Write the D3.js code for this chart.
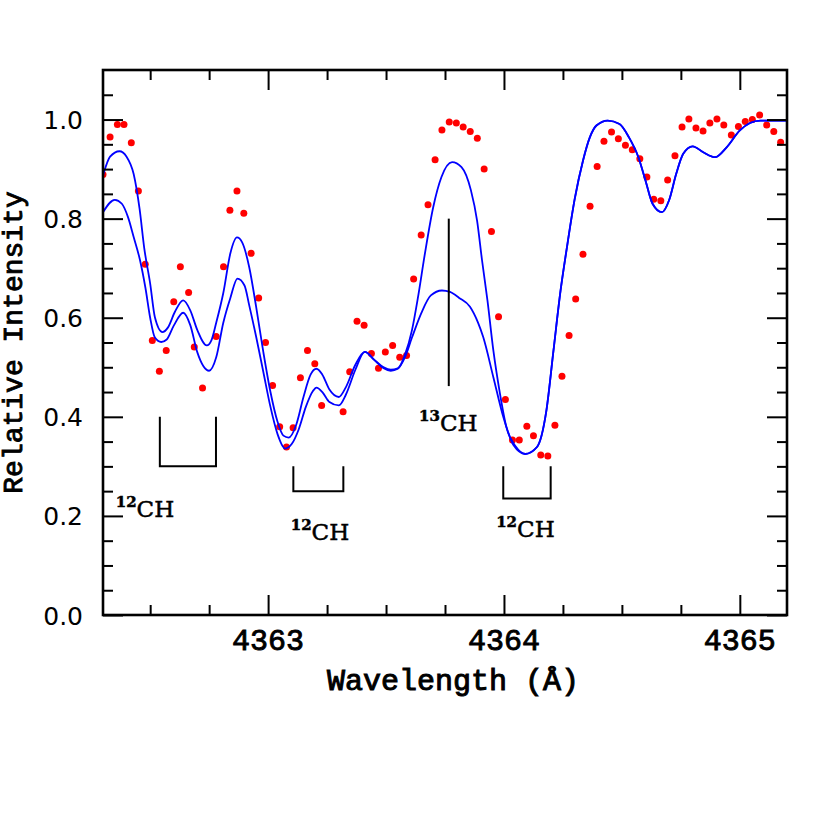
<!DOCTYPE html>
<html>
<head>
<meta charset="utf-8">
<script src="https://cdn.jsdelivr.net/npm/d3@7"></script>
<style>
  html, body { margin: 0; padding: 0; background: #fff; }
  svg { display: block; }
</style>
</head>
<body>
<svg id="chart" width="830" height="830"></svg>
<script>
// ---- observed data (red points) ----
const obsWave = [4362.300,4362.330,4362.361,4362.389,4362.420,4362.450,4362.479,4362.509,4362.539,4362.568,
  4362.600,4362.628,4362.663,4362.687,4362.722,4362.780,4362.811,4362.838,4362.868,4362.897,
  4362.928,4362.960,4362.989,4363.019,4363.049,4363.078,4363.106,4363.137,4363.167,4363.198,
  4363.227,4363.318,4363.346,4363.377,4363.407,4363.438,4363.468,4363.497,4363.528,4363.558,
  4363.587,4363.617,4363.649,4363.678,4363.708,4363.737,4363.768,4363.798,4363.827,4363.857,
  4363.887,4363.916,4363.947,4363.977,4364.006,4364.036,4364.065,4364.097,4364.125,4364.156,
  4364.186,4364.216,4364.246,4364.276,4364.304,4364.335,4364.365,4364.395,4364.424,4364.456,
  4364.485,4364.515,4364.544,4364.576,4364.606,4364.635,4364.665,4364.694,4364.725,4364.755,
  4364.784,4364.814,4364.844,4364.873,4364.903,4364.932,4364.964,4364.994,4365.023,4365.053,
  4365.084,4365.114,4365.144,4365.173];
const obsFlux = [0.889,0.965,0.990,0.990,0.953,0.856,0.708,0.554,0.492,0.534,
  0.632,0.703,0.651,0.541,0.458,0.562,0.703,0.817,0.856,0.811,
  0.730,0.640,0.550,0.463,0.380,0.339,0.378,0.479,0.534,0.507,
  0.423,0.410,0.491,0.593,0.585,0.528,0.498,0.531,0.544,0.520,
  0.524,0.678,0.767,0.828,0.919,0.979,0.995,0.993,0.985,0.976,
  0.962,0.900,0.774,0.602,0.435,0.353,0.353,0.381,0.362,0.323,
  0.321,0.383,0.482,0.564,0.638,0.728,0.825,0.905,0.956,0.975,
  0.961,0.948,0.939,0.921,0.884,0.839,0.836,0.878,0.927,0.985,
  1.001,0.983,0.977,0.993,1.001,0.989,0.969,0.986,0.996,1.000,
  1.009,0.989,0.976,0.954];

// ---- synthetic spectrum (upper curve) ----
const synAWave = [4362.300,4362.330,4362.370,4362.400,4362.430,4362.455,4362.475,4362.500,4362.520,4362.552,
  4362.575,4362.605,4362.640,4362.670,4362.700,4362.740,4362.760,4362.780,4362.810,4362.840,
  4362.868,4362.890,4362.920,4362.950,4362.980,4363.010,4363.040,4363.065,4363.087,4363.120,
  4363.150,4363.180,4363.205,4363.230,4363.260,4363.300,4363.330,4363.370,4363.410,4363.450,
  4363.490,4363.520,4363.550,4363.580,4363.610,4363.635,4363.665,4363.700,4363.735,4363.780,
  4363.820,4363.860,4363.886,4363.907,4363.930,4363.955,4363.983,4364.010,4364.050,4364.090,
  4364.140,4364.180,4364.210,4364.240,4364.265,4364.300,4364.335,4364.364,4364.392,4364.440,
  4364.490,4364.530,4364.570,4364.600,4364.630,4364.670,4364.700,4364.730,4364.760,4364.800,
  4364.845,4364.895,4364.944,4365.000,4365.043,4365.087,4365.200];
const synAFlux = [0.887,0.925,0.936,0.925,0.890,0.820,0.740,0.669,0.601,0.571,
  0.580,0.612,0.635,0.615,0.575,0.544,0.555,0.590,0.650,0.730,
  0.762,0.752,0.702,0.620,0.530,0.450,0.390,0.362,0.358,0.385,
  0.440,0.485,0.497,0.485,0.455,0.440,0.460,0.505,0.531,0.515,
  0.498,0.493,0.497,0.525,0.575,0.640,0.730,0.823,0.884,0.914,
  0.904,0.857,0.796,0.716,0.635,0.534,0.447,0.380,0.340,0.325,
  0.339,0.413,0.534,0.655,0.736,0.840,0.917,0.964,0.988,0.998,
  0.991,0.964,0.924,0.877,0.830,0.813,0.837,0.890,0.931,0.946,
  0.934,0.924,0.944,0.978,0.993,0.998,0.998];

// ---- synthetic spectrum (lower curve) ----
const synBWave = [4362.300,4362.350,4362.380,4362.406,4362.430,4362.457,4362.480,4362.500,4362.520,4362.547,
  4362.570,4362.600,4362.640,4362.670,4362.700,4362.750,4362.780,4362.810,4362.840,4362.870,
  4362.900,4362.920,4362.950,4362.980,4363.010,4363.040,4363.072,4363.100,4363.130,4363.160,
  4363.190,4363.205,4363.230,4363.260,4363.300,4363.330,4363.370,4363.410,4363.450,4363.490,
  4363.520,4363.550,4363.580,4363.610,4363.650,4363.690,4363.737,4363.771,4363.810,4363.856,
  4363.890,4363.912,4363.955,4363.997,4364.040,4364.090,4364.140,4364.180,4364.210,4364.240,
  4364.265,4364.300,4364.335,4364.364,4364.392,4364.440,4364.490,4364.530,4364.570,4364.600,
  4364.630,4364.670,4364.700,4364.730,4364.760,4364.800,4364.845,4364.895,4364.944,4365.000,
  4365.043,4365.087,4365.200];
const synBFlux = [0.813,0.838,0.830,0.803,0.763,0.716,0.660,0.600,0.560,0.551,
  0.556,0.584,0.610,0.585,0.530,0.493,0.520,0.590,0.640,0.679,
  0.665,0.625,0.560,0.490,0.420,0.365,0.336,0.345,0.375,0.420,
  0.452,0.459,0.450,0.430,0.423,0.445,0.495,0.531,0.515,0.500,
  0.495,0.498,0.520,0.560,0.610,0.645,0.655,0.652,0.640,0.622,
  0.590,0.561,0.480,0.400,0.343,0.325,0.339,0.413,0.534,0.655,
  0.736,0.840,0.917,0.964,0.988,0.998,0.991,0.964,0.924,0.877,
  0.830,0.813,0.837,0.890,0.931,0.946,0.934,0.924,0.944,0.978,
  0.993,0.998,0.998];

// ---- annotations ----
const bracketLeft   = [4362.541, 4363.107, 4363.997];
const bracketRight  = [4362.779, 4363.319, 4364.198];
const bracketTop    = [0.400, 0.300, 0.300];
const bracketBottom = [0.300, 0.250, 0.235];
const labelIso      = ["12", "12", "12", "13"];
const labelWave     = [4362.478, 4363.220, 4364.091, 4363.764];
const labelFlux     = [0.197, 0.151, 0.158, 0.371];
const line13Wave    = [4363.766];
const line13Top     = [0.800];
const line13Bottom  = [0.462];

// ---- ticks ----
const xMajor = [4363, 4364, 4365];
const xMinor = [4362.5, 4362.75, 4363.25, 4363.5, 4363.75, 4364.25, 4364.5, 4364.75];
const yMajor = [0.0, 0.2, 0.4, 0.6, 0.8, 1.0];
const yMinor = [0.05,0.1,0.15,0.25,0.3,0.35,0.45,0.5,0.55,0.65,0.7,0.75,0.85,0.9,0.95,1.05];
const xTickLabels = ["4363", "4364", "4365"];
const yTickLabels = ["0.0", "0.2", "0.4", "0.6", "0.8", "1.0"];

const L = 103, R = 787, T = 70, B = 615;
const svg = d3.select("#chart");
const x = d3.scaleLinear().domain([4362.3, 4365.2]).range([L, R]);
const y = d3.scaleLinear().domain([0, 1.1]).range([B, T]);

svg.append("defs").append("clipPath").attr("id", "clip")
  .append("rect").attr("x", L).attr("y", T).attr("width", R - L).attr("height", B - T);

const plot = svg.append("g").attr("clip-path", "url(#clip)");

plot.selectAll("circle.obs").data(obsWave.map((w, i) => [w, obsFlux[i]]))
  .enter().append("circle").attr("class", "obs")
  .attr("cx", d => x(d[0])).attr("cy", d => y(d[1])).attr("r", 3.5)
  .attr("fill", "#ff0000");

const line = d3.line().x(d => x(d[0])).y(d => y(d[1])).curve(d3.curveMonotoneX);
[[synAWave, synAFlux], [synBWave, synBFlux]].forEach(([w, f]) => {
  plot.append("path").datum(w.map((v, i) => [v, f[i]]))
    .attr("d", line).attr("fill", "none").attr("stroke", "#0000ff").attr("stroke-width", 1.8);
});

const ann = svg.append("g").attr("stroke", "#000").attr("stroke-width", 2).attr("fill", "none");
bracketLeft.forEach((wl, i) => {
  const wr = bracketRight[i];
  ann.append("path").attr("d",
    `M${x(wl)},${y(bracketTop[i])}V${y(bracketBottom[i])}H${x(wr)}V${y(bracketTop[i])}`);
});
line13Wave.forEach((w, i) => {
  ann.append("line").attr("x1", x(w)).attr("x2", x(w))
    .attr("y1", y(line13Top[i])).attr("y2", y(line13Bottom[i]));
});

labelIso.forEach((iso, i) => {
  const t = svg.append("text")
    .attr("x", x(labelWave[i])).attr("y", y(labelFlux[i]))
    .attr("text-anchor", "middle")
    .attr("font-family", "'DejaVu Serif', serif").attr("fill", "#000")
    .attr("stroke", "#000").attr("stroke-width", 0.5);
  t.append("tspan").attr("font-size", 15).attr("font-weight", "bold").attr("dy", -10).text(iso);
  t.append("tspan").attr("font-size", 23).attr("dy", 10).text("CH");
});

function styleAxis(g) {
  g.select(".domain").remove();
  g.selectAll(".tick line").attr("stroke", "#000").attr("stroke-width", 2);
  g.selectAll(".tick text").remove();
}
svg.append("g").attr("transform", `translate(0,${B})`)
  .call(d3.axisBottom(x).tickValues(xMajor).tickSize(-20).tickFormat("")).call(styleAxis);
svg.append("g").attr("transform", `translate(0,${B})`)
  .call(d3.axisBottom(x).tickValues(xMinor).tickSize(-10).tickFormat("")).call(styleAxis);
svg.append("g").attr("transform", `translate(0,${T})`)
  .call(d3.axisTop(x).tickValues(xMajor).tickSize(-20).tickFormat("")).call(styleAxis);
svg.append("g").attr("transform", `translate(0,${T})`)
  .call(d3.axisTop(x).tickValues(xMinor).tickSize(-10).tickFormat("")).call(styleAxis);
svg.append("g").attr("transform", `translate(${L},0)`)
  .call(d3.axisLeft(y).tickValues(yMajor).tickSize(-20).tickFormat("")).call(styleAxis);
svg.append("g").attr("transform", `translate(${L},0)`)
  .call(d3.axisLeft(y).tickValues(yMinor).tickSize(-10).tickFormat("")).call(styleAxis);
svg.append("g").attr("transform", `translate(${R},0)`)
  .call(d3.axisRight(y).tickValues(yMajor).tickSize(-20).tickFormat("")).call(styleAxis);
svg.append("g").attr("transform", `translate(${R},0)`)
  .call(d3.axisRight(y).tickValues(yMinor).tickSize(-10).tickFormat("")).call(styleAxis);

svg.append("rect").attr("x", L).attr("y", T).attr("width", R - L).attr("height", B - T)
  .attr("fill", "none").attr("stroke", "#000").attr("stroke-width", 2.6);

svg.selectAll("text.xt").data(xMajor).enter().append("text").attr("class", "xt")
  .attr("x", d => x(d)).attr("y", B + 35).attr("text-anchor", "middle")
  .attr("font-family", "'Liberation Mono', monospace").attr("font-size", 30)
  .attr("fill", "#000").attr("stroke", "#000").attr("stroke-width", 0.9)
  .text((d, i) => xTickLabels[i]);
svg.selectAll("text.yt").data(yMajor).enter().append("text").attr("class", "yt")
  .attr("x", L - 20).attr("y", d => y(d) + 9.5).attr("text-anchor", "end")
  .attr("font-family", "'DejaVu Sans', sans-serif").attr("font-size", 25)
  .attr("fill", "#000").text((d, i) => yTickLabels[i]);

svg.append("text").attr("x", 453).attr("y", 690).attr("text-anchor", "middle")
  .attr("font-family", "'Liberation Mono', monospace").attr("font-size", 30)
  .attr("fill", "#000").attr("stroke", "#000").attr("stroke-width", 1.0)
  .text("Wavelength (Å)");
svg.append("text").attr("transform", `translate(22,${(T + B) / 2}) rotate(-90)`)
  .attr("text-anchor", "middle")
  .attr("font-family", "'Liberation Mono', monospace").attr("font-size", 28)
  .attr("fill", "#000").attr("stroke", "#000").attr("stroke-width", 0.9)
  .text("Relative Intensity");
</script>
</body>
</html>
